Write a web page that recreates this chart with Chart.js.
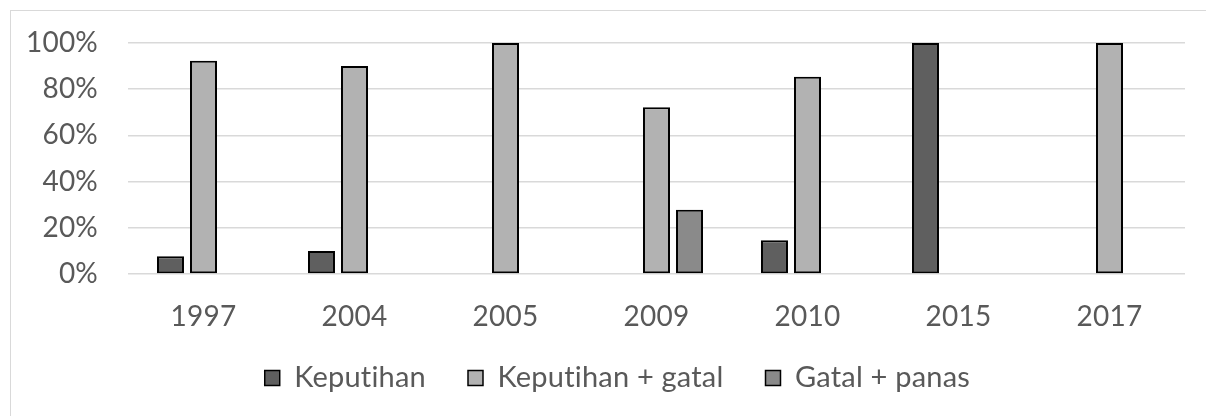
<!DOCTYPE html>
<html>
<head>
<meta charset="utf-8">
<script src="https://cdn.jsdelivr.net/npm/chart.js@4/dist/chart.umd.min.js"></script>
<style>
  html, body { margin: 0; padding: 0; background: #fff; }
  #wrap { position: relative; width: 1206px; height: 416px; }
  #frame { position: absolute; left: 10px; top: 10px; right: 0; bottom: 0;
           border-top: 1.5px solid #d9d9d9; border-left: 1.5px solid #d9d9d9; }
  canvas { position: absolute; left: 0; top: 0; }
</style>
</head>
<body>
<div id="wrap">
  <div id="frame"></div>
  <canvas id="c" width="1206" height="416"></canvas>
</div>
<script>
// Years on the category axis
const years = ['1997', '2004', '2005', '2009', '2010', '2015', '2017'];

// Share of cases per complaint (percent); null = no bar for that year
const keputihan      = [7.7, 10, null, null, 14.6, 100, null];
const keputihanGatal = [92.3, 90, 100, 72.2, 85.4, null, 100];
const gatalPanas     = [null, null, null, 27.8, null, null, null];

// Percentage axis ticks
const yTicks = [0, 20, 40, 60, 80, 100];

const textColor = '#595959';
const gridColor = '#d9d9d9';
const fontFamily = 'Lato, "Open Sans", sans-serif';
const fontSize = 28;

// The legend's own padding also sets the gap between items, which leaves it
// sitting too low; nudge it after layout so the year labels keep their room.
const legendShift = {
  id: 'legendShift',
  beforeDraw(chart) {
    chart.ctx.letterSpacing = '0.2px';
  },
  afterLayout(chart) {
    const lg = chart.legend;
    if (lg) {
      lg.top -= 12.5; lg.bottom -= 12.5;
      lg.left += 11; lg.right += 11;
    }
  }
};

function barSet(label, data, color) {
  return {
    label: label,
    data: data,
    backgroundColor: color,
    borderColor: '#000',
    borderWidth: 2,
    borderSkipped: false,
    barPercentage: 0.818,
    categoryPercentage: 0.656
  };
}

new Chart(document.getElementById('c'), {
  type: 'bar',
  plugins: [legendShift],
  data: {
    labels: years,
    datasets: [
      barSet('Keputihan', keputihan, '#5f5f5f'),
      barSet('Keputihan + gatal', keputihanGatal, '#b2b2b2'),
      barSet('Gatal + panas', gatalPanas, '#8a8a8a')
    ]
  },
  options: {
    responsive: false,
    animation: false,
    devicePixelRatio: 1,
    layout: { padding: { top: 43, right: 0, bottom: 1, left: 0 } },
    plugins: {
      tooltip: { enabled: false },
      legend: {
        position: 'bottom',
        labels: {
          color: textColor,
          font: { family: fontFamily, size: 29 },
          boxWidth: 15,
          boxHeight: 15,
          padding: 42,
          generateLabels(chart) {
            return chart.data.datasets.map((ds, i) => ({
              text: ds.label,
              fillStyle: ds.backgroundColor,
              strokeStyle: '#000',
              lineWidth: 1.5,
              fontColor: textColor,
              datasetIndex: i,
              hidden: false
            }));
          }
        }
      }
    },
    scales: {
      x: {
        grid: { display: false },
        border: { display: false },
        ticks: {
          color: textColor,
          font: { family: fontFamily, size: fontSize },
          padding: 18,
          maxRotation: 0
        },
        afterFit(s) { s.height = 60; }
      },
      y: {
        min: 0,
        max: 100,
        afterBuildTicks(s) { s.ticks = yTicks.map(v => ({ value: v })); },
        grid: { color: gridColor, lineWidth: 1.5, drawTicks: false },
        border: { display: false },
        ticks: {
          color: textColor,
          font: { family: fontFamily, size: fontSize },
          padding: 30,
          callback: v => v + '%'
        },
        afterFit(s) {
          s.width = 128;
          s.paddingTop = 0;
          s.paddingBottom = 0;
        }
      },
      yR: {
        position: 'right',
        grid: { display: false },
        border: { display: false },
        ticks: { display: false },
        afterFit(s) {
          s.width = 21;
          s.paddingTop = 0;
          s.paddingBottom = 0;
        }
      }
    }
  }
});
</script>
</body>
</html>
